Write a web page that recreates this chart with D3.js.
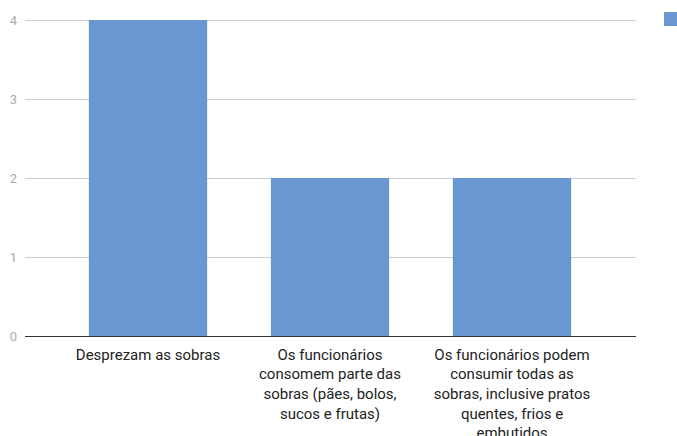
<!DOCTYPE html>
<html>
<head>
<meta charset="utf-8">
<script src="https://cdn.jsdelivr.net/npm/d3@7"></script>
<style>
  body { margin: 0; background: #fff; overflow: hidden; }
  svg { font-family: Roboto, "Noto Sans", sans-serif; display: block; }
</style>
</head>
<body>
<div id="chart"></div>
<script>
// Chart data
const categories = [
    ['Desprezam as sobras'],
    ['Os funcionários', 'consomem parte das', 'sobras (pães, bolos,', 'sucos e frutas)'],
    ['Os funcionários podem', 'consumir todas as', 'sobras, inclusive pratos', 'quentes, frios e', 'embutidos']
];
const values = [4, 2, 2];
const yTicks = [0, 1, 2, 3, 4];

const W = 677, H = 436;
const plot = { left: 25, right: 636, top: 20, bottom: 336 };

const svg = d3.select('#chart')
    .append('svg')
    .attr('width', W)
    .attr('height', H);

const x = d3.scaleBand()
    .domain(d3.range(categories.length))
    .range([57, 603])
    .paddingInner(0.35)
    .paddingOuter(0.175);

const y = d3.scaleLinear()
    .domain([0, 4])
    .range([plot.bottom, plot.top]);

// Gridlines
svg.append('g')
    .selectAll('line')
    .data(yTicks.filter(d => d !== 0))
    .enter()
    .append('line')
    .attr('x1', plot.left)
    .attr('x2', plot.right)
    .attr('y1', d => y(d) + 0.5)
    .attr('y2', d => y(d) + 0.5)
    .attr('stroke', '#cccccc')
    .attr('stroke-width', 1);

// Y tick labels
svg.append('g')
    .selectAll('text')
    .data(yTicks)
    .enter()
    .append('text')
    .attr('x', 17)
    .attr('y', d => y(d))
    .attr('dy', '0.35em')
    .attr('text-anchor', 'end')
    .style('font-size', '13px')
    .style('fill', '#aaaaaa')
    .text(d => d);

// Bars
svg.append('g')
    .selectAll('rect')
    .data(values)
    .enter()
    .append('rect')
    .attr('x', (d, i) => x(i))
    .attr('y', d => y(d))
    .attr('width', x.bandwidth())
    .attr('height', d => y(0) - y(d))
    .attr('fill', '#6897d1');

// Baseline
svg.append('line')
    .attr('x1', plot.left)
    .attr('x2', plot.right)
    .attr('y1', y(0) + 0.5)
    .attr('y2', y(0) + 0.5)
    .attr('stroke', '#333333')
    .attr('stroke-width', 1);

// Category labels (wrapped)
const labels = svg.append('g')
    .selectAll('text')
    .data(categories)
    .enter()
    .append('text')
    .attr('x', (d, i) => x(i) + x.bandwidth() / 2)
    .attr('y', 359)
    .attr('text-anchor', 'middle')
    .style('font-size', '15px')
    .style('fill', '#222222');

labels.each(function(lines) {
    const t = d3.select(this);
    lines.forEach((line, j) => {
        t.append('tspan')
            .attr('x', t.attr('x'))
            .attr('y', 359.5 + j * 19.7)
            .text(line);
    });
});

// Legend marker (clipped at right edge)
svg.append('rect')
    .attr('x', 664)
    .attr('y', 12)
    .attr('width', 14)
    .attr('height', 14)
    .attr('rx', 1)
    .attr('fill', '#6897d1');
</script>
</body>
</html>
